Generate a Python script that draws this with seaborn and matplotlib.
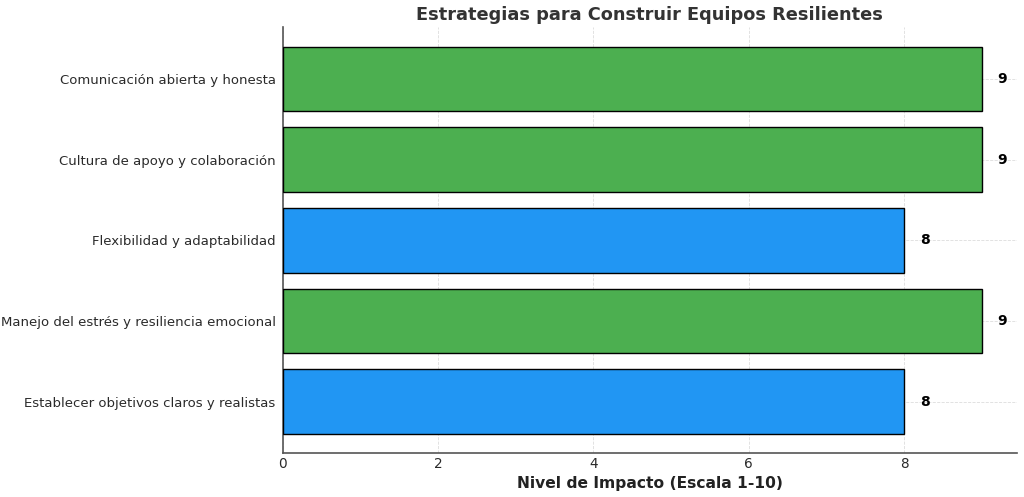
import matplotlib
matplotlib.use("Agg")
import matplotlib.pyplot as plt
import seaborn as sns
import pandas as pd

categories = [
    "Comunicación abierta y honesta",
    "Cultura de apoyo y colaboración",
    "Flexibilidad y adaptabilidad",
    "Manejo del estrés y resiliencia emocional",
    "Establecer objetivos claros y realistas",
]
values = [9, 9, 8, 9, 8]
bar_colors = ["#4CAF50", "#4CAF50", "#2196F3", "#4CAF50", "#2196F3"]

df = pd.DataFrame({"Estrategia": categories, "Impacto": values})

sns.set_style("whitegrid")
plt.rcParams["font.family"] = ["DejaVu Sans"]

fig, ax = plt.subplots(figsize=(10.24, 4.97), dpi=100)
sns.barplot(data=df, y="Estrategia", x="Impacto", hue="Estrategia",
            palette=bar_colors, saturation=1, legend=False, orient="h",
            width=0.8, edgecolor="black", linewidth=1, ax=ax, zorder=3)

ax.set_xlim(0, 9.45)
ax.set_ylim(4.64, -0.64)

for i, v in enumerate(values):
    ax.text(v + 0.2, i, str(v), va="center", ha="left",
            fontsize=10, fontweight="bold", color="black", zorder=4)

ax.set_title("Estrategias para Construir Equipos Resilientes",
             fontsize=12.8, fontweight="bold", color="#333333", pad=5)
ax.set_xlabel("Nivel de Impacto (Escala 1-10)", fontsize=11.2,
              fontweight="bold", color="#222222", labelpad=3)
ax.set_ylabel("")
ax.set_xticks([0, 2, 4, 6, 8])
ax.tick_params(axis="y", labelsize=9.5, colors="#2a2a2a", length=3, pad=2)
ax.tick_params(axis="x", labelsize=9.8, colors="#2a2a2a", length=0, pad=3)

ax.grid(True, linestyle="--", linewidth=0.6, color="#dddddd", zorder=0)
ax.set_axisbelow(True)
for s in ["top", "right"]:
    ax.spines[s].set_visible(False)
for s in ["left", "bottom"]:
    ax.spines[s].set_color("#555555")
    ax.spines[s].set_linewidth(1.2)

fig.subplots_adjust(left=0.276, right=0.993, top=0.945, bottom=0.088)
fig.savefig("out.png", dpi=100)
